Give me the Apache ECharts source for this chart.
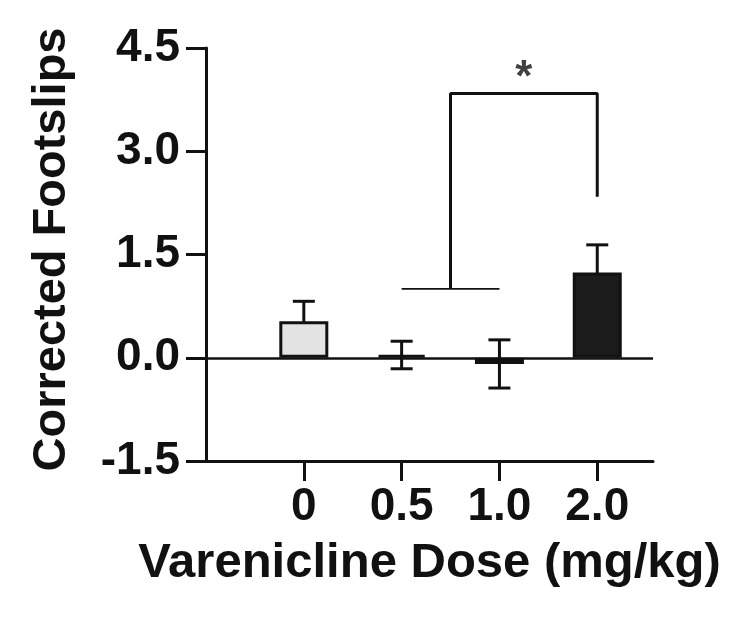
<!DOCTYPE html>
<html>
<head>
<meta charset="utf-8">
<script src="https://cdn.jsdelivr.net/npm/echarts@6/dist/echarts.min.js"></script>
<style>
html,body{margin:0;padding:0;background:#fff;}
#chart{width:750px;height:617px;}
</style>
</head>
<body>
<div id="chart"></div>
<script>
// ---- data ----
const categories = ['0', '0.5', '1.0', '2.0'];
const groupPos = [1, 2, 3, 4];
const means = [0.53, 0.04, -0.09, 1.24];
const sems = [0.29, 0.20, 0.35, 0.40];
const barColors = ['#e3e3e3', '#111111', '#111111', '#1b1b1b'];
const yTicks = [-1.5, 0.0, 1.5, 3.0, 4.5];
// significance annotation (data units)
const sigLow = [[2, 1.0], [3, 1.0]];
const sigHigh = [[2.5, 1.0], [2.5, 3.84], [4, 3.84], [4, 2.34]];
const sigStar = [[3.25, 4.05]];

const FONT = "'Liberation Sans', Arial, sans-serif";
const INK = '#111111';

const chart = echarts.init(document.getElementById('chart'));
chart.setOption({
  animation: false,
  backgroundColor: '#ffffff',
  grid: { left: 206, right: 97, top: 48, bottom: 156 },
  xAxis: {
    type: 'value',
    min: 0, max: 4.57,
    name: 'Varenicline Dose (mg/kg)',
    nameLocation: 'middle',
    nameGap: 78,
    nameTextStyle: { fontFamily: FONT, fontWeight: 'bold', fontSize: 49, color: INK },
    axisLine: { onZero: false, lineStyle: { color: INK, width: 3 } },
    axisTick: { show: true, customValues: groupPos, length: 20, lineStyle: { color: INK, width: 3 } },
    axisLabel: {
      customValues: groupPos,
      formatter: v => categories[groupPos.indexOf(v)],
      fontFamily: FONT, fontWeight: 'bold', fontSize: 46, color: INK, margin: 23
    },
    splitLine: { show: false }
  },
  yAxis: {
    type: 'value',
    min: yTicks[0], max: yTicks[yTicks.length - 1], interval: 1.5,
    name: 'Corrected Footslips',
    nameLocation: 'middle',
    nameGap: 130,
    nameTextStyle: { fontFamily: FONT, fontWeight: 'bold', fontSize: 47, color: INK, padding: [0, 0, 0, 10] },
    axisLine: { show: true, lineStyle: { color: INK, width: 3 } },
    axisTick: { show: true, length: 20, lineStyle: { color: INK, width: 3 } },
    axisLabel: {
      formatter: v => v.toFixed(1),
      fontFamily: FONT, fontWeight: 'bold', fontSize: 46, color: INK, margin: 26
    },
    splitLine: { show: false }
  },
  series: [
    {
      type: 'custom',
      z: 1,
      data: groupPos.map((x, i) => [x, means[i] - sems[i], means[i] + sems[i]]),
      renderItem: function (params, api) {
        const x = api.value(0);
        const lo = api.coord([x, api.value(1)]);
        const hi = api.coord([x, api.value(2)]);
        const cap = 11;
        const st = { stroke: INK, lineWidth: 3 };
        return {
          type: 'group',
          children: [
            { type: 'line', shape: { x1: lo[0], y1: lo[1], x2: hi[0], y2: hi[1] }, style: st },
            { type: 'line', shape: { x1: hi[0] - cap, y1: hi[1], x2: hi[0] + cap, y2: hi[1] }, style: st },
            { type: 'line', shape: { x1: lo[0] - cap, y1: lo[1], x2: lo[0] + cap, y2: lo[1] }, style: st }
          ]
        };
      }
    },
    {
      type: 'bar',
      z: 3,
      barWidth: 49,
      data: groupPos.map((x, i) => ({
        value: [x, means[i]],
        itemStyle: { color: barColors[i], borderColor: INK, borderWidth: 3 }
      })),
      markLine: {
        silent: true,
        symbol: ['none', 'none'],
        label: { show: false },
        lineStyle: { color: INK, width: 2.5, type: 'solid' },
        data: [{ yAxis: 0 }]
      }
    },
    {
      type: 'line',
      data: sigLow,
      symbol: 'none',
      lineStyle: { color: INK, width: 1.8 },
      z: 2
    },
    {
      type: 'line',
      data: sigHigh,
      symbol: 'none',
      lineStyle: { color: INK, width: 3 },
      z: 2
    },
    {
      type: 'scatter',
      data: sigStar,
      symbolSize: 1,
      itemStyle: { color: 'rgba(0,0,0,0)' },
      label: {
        show: true, position: 'inside', formatter: '*',
        fontFamily: FONT, fontWeight: 'bold', fontSize: 44, color: INK
      }
    }
  ]
});
</script>
</body>
</html>
